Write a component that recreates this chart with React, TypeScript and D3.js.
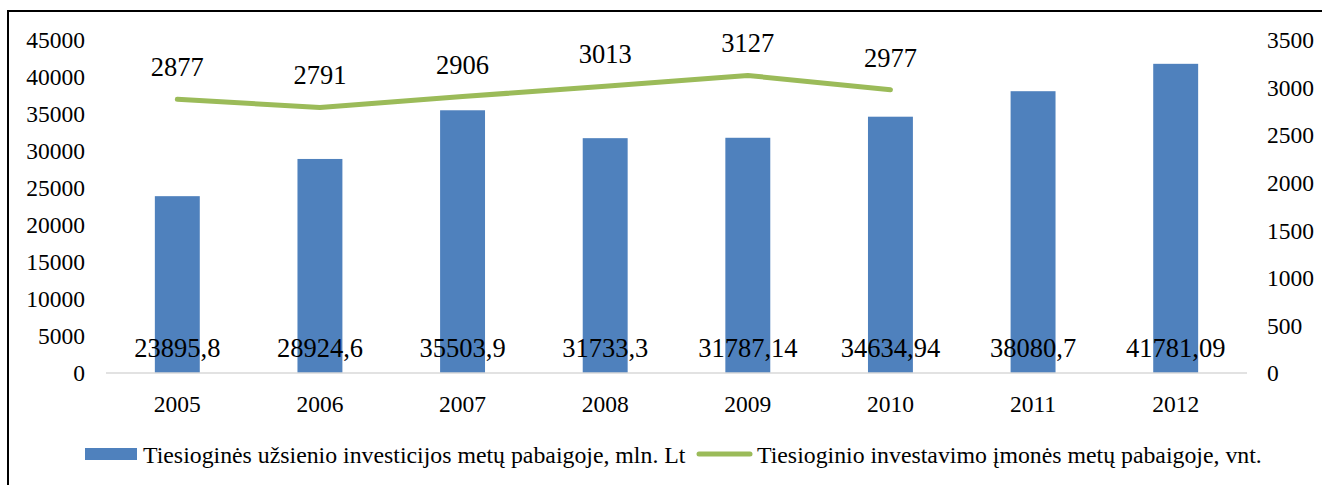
import React from "react";
import * as d3 from "d3";

const years = ["2005", "2006", "2007", "2008", "2009", "2010", "2011", "2012"];
const investments = [23895.8, 28924.6, 35503.9, 31733.3, 31787.14, 34634.94, 38080.7, 41781.09];
const investmentLabels = ["23895,8", "28924,6", "35503,9", "31733,3", "31787,14", "34634,94", "38080,7", "41781,09"];
const companyYears = ["2005", "2006", "2007", "2008", "2009", "2010"];
const companies = [2877, 2791, 2906, 3013, 3127, 2977];
const leftTicks = [0, 5000, 10000, 15000, 20000, 25000, 30000, 35000, 40000, 45000];
const rightTicks = [0, 500, 1000, 1500, 2000, 2500, 3000, 3500];
const legendBar = "Tiesioginės užsienio investicijos metų pabaigoje, mln. Lt";
const legendLine = "Tiesioginio investavimo įmonės metų pabaigoje, vnt.";

const W = 1322;
const H = 485;
const plotLeft = 106;
const plotRight = 1247;
const yTop = 40;
const yZero = 373;
const FONT = "Liberation Serif";
const BLUE = "#4F81BD";
const GREEN = "#9BBB59";

export default function App() {
  const x = d3.scaleBand<string>().domain(years).range([plotLeft, plotRight]).paddingInner(0.685).paddingOuter(0.3425);
  const yL = d3.scaleLinear().domain([0, 45000]).range([yZero, yTop]);
  const yR = d3.scaleLinear().domain([0, 3500]).range([yZero, yTop]);
  const cx = (y: string) => (x(y) as number) + x.bandwidth() / 2;
  const line = d3
    .line<number>()
    .x((_, i) => cx(companyYears[i]))
    .y((d) => yR(d));
  const ts = (size: number): React.CSSProperties => ({ fontFamily: FONT, fontSize: size + "px" });

  return (
    <svg width={W} height={H} style={{ display: "block", position: "absolute", left: 0, top: 0, fontFamily: FONT }}>
      <rect x={0} y={0} width={W} height={H} fill="#fff" />
      <path d={`M8,${H + 5} L8,11 L${W + 5},11`} fill="none" stroke="#000" strokeWidth={2} />
      {years.map((yr, i) => (
        <rect
          key={yr}
          x={x(yr)}
          y={yL(investments[i])}
          width={x.bandwidth()}
          height={yZero - yL(investments[i])}
          fill={BLUE}
        />
      ))}
      <line x1={plotLeft} x2={plotRight} y1={yZero} y2={yZero} stroke="#D9D9D9" strokeWidth={1.5} />
      <path d={line(companies) || ""} fill="none" stroke={GREEN} strokeWidth={5} strokeLinecap="round" strokeLinejoin="round" />
      <g fill="#000">
        {leftTicks.map((t) => (
          <text key={t} x={85} y={yL(t)} dy="0.35em" textAnchor="end" style={ts(23.5)}>
            {t}
          </text>
        ))}
        {rightTicks.map((t) => (
          <text key={t} x={1267} y={yR(t)} dy="0.35em" textAnchor="start" style={ts(23.5)}>
            {t}
          </text>
        ))}
        {years.map((yr) => (
          <text key={yr} x={cx(yr)} y={412} textAnchor="middle" style={ts(23.5)}>
            {yr}
          </text>
        ))}
        {years.map((yr, i) => (
          <text key={yr} x={cx(yr)} y={357} textAnchor="middle" style={ts(26.5)}>
            {investmentLabels[i]}
          </text>
        ))}
        {companyYears.map((yr, i) => (
          <text key={yr} x={cx(yr)} y={yR(companies[i]) - 23} textAnchor="middle" style={ts(26.5)}>
            {companies[i]}
          </text>
        ))}
        <rect x={85} y={448} width={52} height={12} fill={BLUE} />
        <text x={143} y={463} style={ts(23.8)}>
          {legendBar}
        </text>
        <line x1={699} x2={750} y1={454} y2={454} stroke={GREEN} strokeWidth={5} strokeLinecap="round" />
        <text x={757} y={463} style={ts(23.8)}>
          {legendLine}
        </text>
      </g>
    </svg>
  );
}
